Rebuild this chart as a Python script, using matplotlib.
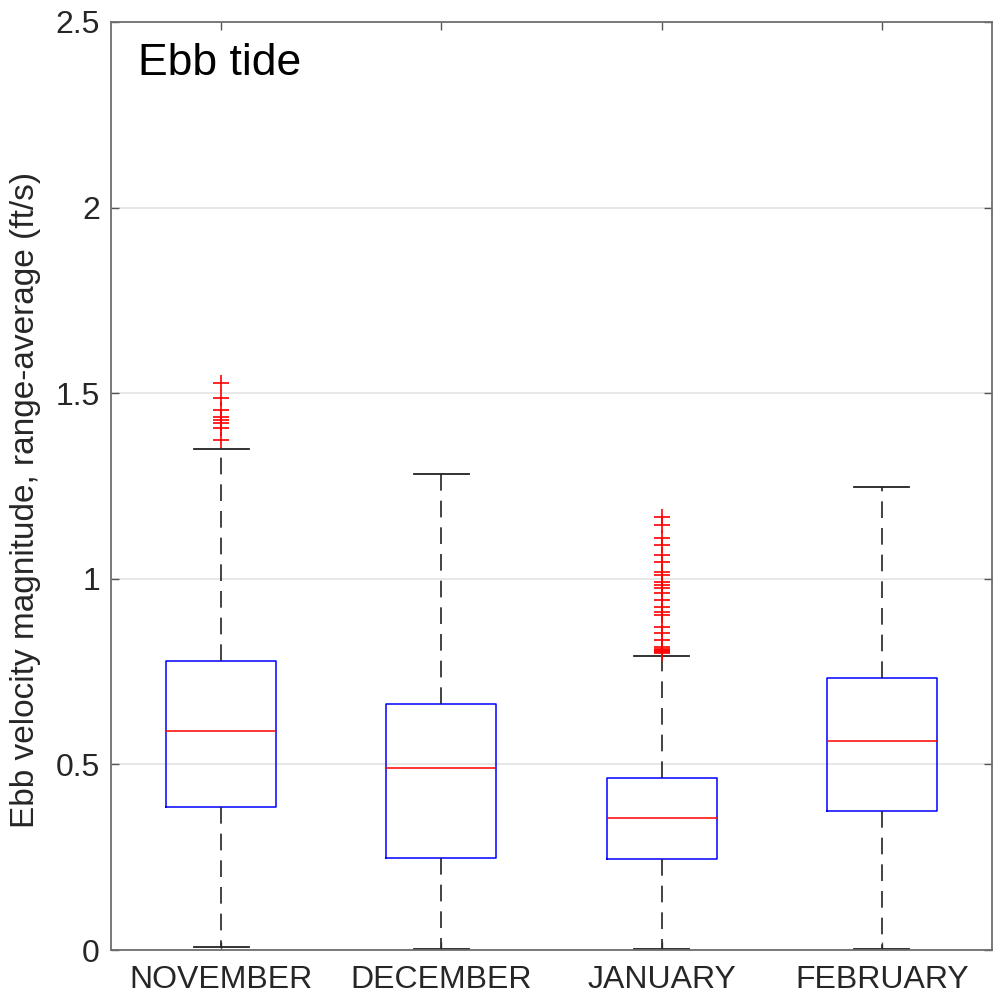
import matplotlib
matplotlib.use("Agg")
import matplotlib.pyplot as plt
from matplotlib.ticker import FormatStrFormatter

plt.rcParams["font.family"] = ["Liberation Sans", "DejaVu Sans"]

months = ["NOVEMBER", "DECEMBER", "JANUARY", "FEBRUARY"]
q1 = [0.385, 0.248, 0.245, 0.374]
medians = [0.590, 0.490, 0.356, 0.563]
q3 = [0.778, 0.663, 0.463, 0.733]
whisker_lo = [0.008, 0.002, 0.002, 0.002]
whisker_hi = [1.350, 1.282, 0.792, 1.247]
outliers = [
    [1.527, 1.486, 1.455, 1.437, 1.428, 1.419, 1.405, 1.374],
    [],
    [1.167, 1.145, 1.109, 1.091, 1.064, 1.046, 1.019, 1.010, 0.992, 0.983,
     0.974, 0.961, 0.943, 0.925, 0.911, 0.902, 0.871, 0.853, 0.835, 0.817,
     0.812, 0.808, 0.806, 0.804, 0.801],
    [],
]

stats = [dict(label=m, q1=a, med=b, q3=c, whislo=lo, whishi=hi, fliers=f)
         for m, a, b, c, lo, hi, f in zip(months, q1, medians, q3,
                                         whisker_lo, whisker_hi, outliers)]

fig = plt.figure(figsize=(10.03, 9.99), dpi=100)
ax = fig.add_axes([0.1107, 0.049, 0.8783, 0.929])

ax.bxp(stats, widths=0.5, capwidths=0.25, patch_artist=False,
       boxprops=dict(color="#0000ff", linewidth=1.1),
       medianprops=dict(color="#ff0000", linewidth=1.1),
       whiskerprops=dict(color="#222222", linewidth=1.2, linestyle=(0, (10, 6))),
       capprops=dict(color="#222222", linewidth=1.3),
       flierprops=dict(marker="+", markeredgecolor="#ff0000", markersize=11,
                       markeredgewidth=1.2, linestyle="none"))

ax.set_xlim(0.5, 4.5)
ax.set_ylim(0, 2.5)
ax.set_yticks([0, 0.5, 1, 1.5, 2, 2.5])
ax.yaxis.set_major_formatter(FormatStrFormatter("%g"))
ax.set_xticks([1, 2, 3, 4])
ax.set_xticklabels(months)
ax.grid(axis="y", color="#e3e3e3", linewidth=1.2)
ax.set_axisbelow(True)

for s in ax.spines.values():
    s.set_color("#6e6e6e")
    s.set_linewidth(1.3)
ax.tick_params(direction="in", length=6, width=1.0, colors="#555555",
               labelcolor="#262626", labelsize=23, top=True, right=True)
ax.tick_params(axis="y", pad=8)
ax.tick_params(axis="x", pad=11)

ax.set_ylabel("Ebb velocity magnitude, range-average (ft/s)", fontsize=24,
              color="#262626")
ax.yaxis.set_label_coords(-0.080, 0.485)
ax.text(0.031, 0.977, "Ebb tide", transform=ax.transAxes, ha="left", va="top",
        fontsize=32, color="black")

fig.savefig("out.png", dpi=100)
